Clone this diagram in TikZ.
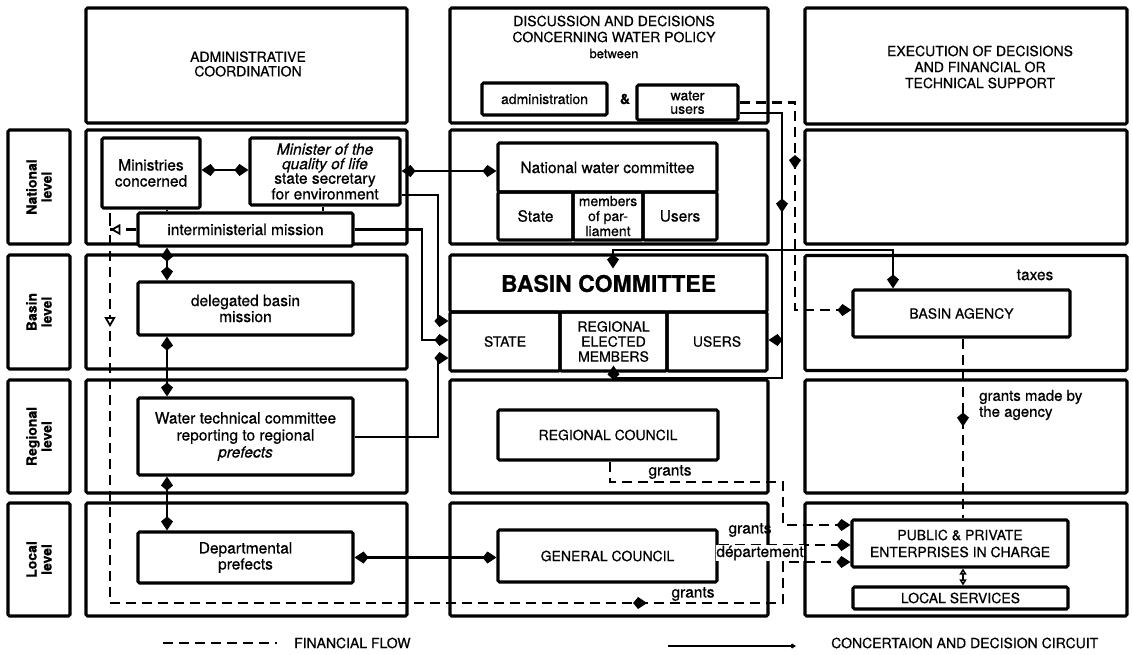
\documentclass[tikz,border=0pt]{standalone}
\usepackage{fontspec}
\setmainfont{TeX Gyre Heros}[FakeBold=0.6]
\usetikzlibrary{arrows.meta,decorations.markings,calc}

\tikzset{
  frame/.style={draw, line width=3.1pt, rounded corners=1.5pt, inner sep=1pt, align=center},
  lc/.style={font=\fontsize{15.5}{16}\selectfont},
  uc/.style={font=\fontsize{14}{16}\selectfont},
  lvltext/.style={rotate=90, align=center, font=\bfseries\fontsize{14}{15}\selectfont},
  link/.style={line width=2.9pt},
  fin/.style={line width=2.9pt, dash pattern=on 10pt off 6pt},
  plain/.style={align=center, inner sep=1pt},
  headtip/.tip={Kite[length=14pt,width=12pt,inset=5pt]},
  opentip/.tip={Triangle[length=10pt,width=11pt,fill=white,line width=1.8pt]},
  midarrow/.style={postaction={decorate}, decoration={markings,
      mark=at position #1 with {\arrow{headtip}}}},
}

\begin{document}
\begin{tikzpicture}[x=1pt, y=-1pt, >=headtip]
\fill[white] (0,0) rectangle (1133,654);
\useasboundingbox (0,0) rectangle (1133,654);

% ---- column headers ----
\node[frame, minimum width=321, minimum height=115] (hA) at (246.5,65.5) {};
\node[plain, font=\fontsize{14}{14.5}\selectfont] (tA) at (248,64) {ADMINISTRATIVE\\COORDINATION};
\node[frame, minimum width=318, minimum height=115] (hB) at (609,65.5) {};
\node[plain, uc] (tB) at (614,37) {DISCUSSION AND DECISIONS\\CONCERNING WATER POLICY\\{\fontsize{13}{14}\selectfont between}};
\node[frame, minimum width=322, minimum height=116] (hC) at (966,66) {};
\node[plain, uc] (tC) at (980,67) {EXECUTION OF DECISIONS\\AND FINANCIAL OR\\TECHNICAL SUPPORT};

\node[frame, uc, minimum width=125, minimum height=32] (adm) at (544.5,99) {administration};
\node[plain, font=\bfseries\fontsize{14}{16}\selectfont] (amp) at (625,99) {\&};
\node[frame, minimum width=101, minimum height=35, font=\fontsize{14}{13.5}\selectfont] (wu) at (687.5,102.5) {water\\users};

% ---- level labels ----
\foreach \nm/\cy/\h/\txt in {l1/187/114/National, l2/312/114/Basin, l3/436.5/113/Regional, l4/559.5/113/Local}{
  \node[frame, minimum width=62, minimum height=\h] (\nm) at (39,\cy) {};
  \node[lvltext] (\nm t) at (39,\cy) {\txt\\level};
}

% ---- level cells ----
\foreach \col/\cx/\w in {A/246.5/321, B/609/318, C/966/322}{
  \node[frame, minimum width=\w, minimum height=114] (\col1) at (\cx,187) {};
  \node[frame, minimum width=\w, minimum height=113] (\col3) at (\cx,436.5) {};
  \node[frame, minimum width=\w, minimum height=113] (\col4) at (\cx,559.5) {};
}
\node[frame, minimum width=321, minimum height=114] (A2) at (246.5,312) {};
\node[frame, minimum width=322, minimum height=115] (C2) at (966,313) {};

% ---- administrative column ----
\node[frame, lc, minimum width=98, minimum height=70] (mc) at (151,173) {Ministries\\concerned};
\node[frame, minimum width=150, minimum height=67, font=\fontsize{15.5}{14.5}\selectfont] (mq) at (325,171.5)
  {\itshape Minister of the\\\itshape quality of life\\state secretary\\for environment};
\node[frame, lc, minimum width=215, minimum height=33, fill=white] (inter) at (245.5,229.5) {interministerial mission};
\node[frame, lc, minimum width=215, minimum height=53] (dbm) at (245.5,308.5) {delegated basin\\mission};
\node[frame, lc, minimum width=215, minimum height=77, font=\fontsize{15.5}{17}\selectfont] (wtc) at (245.5,436.5)
  {Water technical committee\\reporting to regional\\\itshape prefects};
\node[frame, lc, minimum width=215, minimum height=51] (dp) at (245.5,557.5) {Departmental\\prefects};

% ---- discussion column ----
\node[frame, lc, minimum width=219, minimum height=49] (nwc) at (607.5,167.5) {National water committee};
\node[frame, lc, minimum width=75, minimum height=48] (nst) at (535.5,216) {State};
\node[frame, minimum width=70, minimum height=48, font=\fontsize{14}{15}\selectfont] (nmem) at (608,216) {members\\of par-\\liament};
\node[frame, lc, minimum width=74, minimum height=48] (nus) at (680,216) {Users};

\node[frame, minimum width=317, minimum height=57, font=\bfseries\fontsize{23}{24}\selectfont] (bc) at (608.5,283.5) {BASIN COMMITTEE};
\node[frame, uc, minimum width=110, minimum height=59] (bcstate) at (505,341.5) {STATE};
\node[frame, minimum width=107, minimum height=59, font=\fontsize{14}{15}\selectfont] (bcrem) at (613.5,341.5) {REGIONAL\\ELECTED\\MEMBERS};
\node[frame, uc, minimum width=100, minimum height=59] (bcusers) at (717,341.5) {USERS};

\node[frame, uc, minimum width=220, minimum height=50] (rc) at (608,435) {REGIONAL COUNCIL};
\node[frame, uc, minimum width=219, minimum height=52] (gc) at (607.5,556) {GENERAL COUNCIL};

% ---- execution column ----
\node[plain, lc] (taxes) at (1035,275) {taxes};
\node[frame, uc, minimum width=217, minimum height=47] (ba) at (961.5,313.5) {BASIN AGENCY};
\node[plain, lc, align=left, anchor=west, font=\fontsize{15}{16}\selectfont] (gma) at (978,405) {grants made by\\the agency};
\node[frame, uc, minimum width=216, minimum height=47, font=\fontsize{14}{17}\selectfont] (pub) at (960,543.5) {PUBLIC \& PRIVATE\\ENTERPRISES IN CHARGE};
\node[frame, uc, minimum width=215, minimum height=22] (ls) at (960.5,598) {LOCAL SERVICES};

% ---- concertation and decision circuit ----
\draw[link,<->] (mc.east |- 0,170) -- (mq.west |- 0,170);
\draw[link] (167,0 |- mc.south) -- (167,0 |- inter.north);
\draw[link] (323,0 |- mq.south) -- (323,0 |- inter.north);
\draw[link,<->] (167,0 |- inter.south) -- (167,0 |- dbm.north);
\draw[link,<->] (167,0 |- dbm.south) -- (167,0 |- wtc.north);
\draw[link,<->] (167,0 |- wtc.south) -- (167,0 |- dp.north);
\draw[link,<->] (mq.east |- 0,171) -- (nwc.west |- 0,171);
\draw[link,->] (mq.east |- 0,195) -| (438,321) -- (bcstate.west |- 0,321);
\draw[link,->] (inter.east) -| (422,340) -- (bcstate.west |- 0,340);
\draw[link,->] (wtc.east |- 0,437) -| (438,358) -- (bcstate.west |- 0,358);
\draw[link,<->] (dp.east) -- (gc.west |- dp.east);
\draw[link,<->] ($(bc.north)+(4.5,15)$) -- (613,250) -| ($(ba.north)+(-68.5,0)$);
\draw[link,->,midarrow=142pt] (wu.east |- 0,113) -- (782,113) -- (782,378) -- (613.5,378) -- ($(bcrem.south)+(0,-7)$);
\coordinate (jU) at (782,340);
\draw[link,->] (jU) -- (bcusers.east |- jU);
\draw[line width=1.6pt, {Triangle[length=6pt,width=7pt,fill=white]}-{Triangle[length=6pt,width=7pt,fill=white]}]
  (963,0 |- ls.north) -- (963,0 |- pub.south);

% ---- financial flow ----
\coordinate (fstub) at (110,213);
\draw[link] (fstub) -- (110,226);
\draw[fin,->, postaction={decorate}, decoration={markings,
    mark=at position 26pt with {\arrow{opentip}},
    mark=at position 124pt with {\arrow{opentip}},
    mark=at position 937pt with {\arrow{headtip}}}]
  (inter.west) -- (110,229.5) -- (110,603) -- (783,603) -- (783,562) -- (pub.west |- 0,562);
\node[plain, lc, fill=white] (g1) at (693,594) {grants};
\draw[fin,->,midarrow=122pt] (wu.east) -- (795,102.5) -- (795,310) -- (ba.west |- 0,310);
\draw[fin,midarrow=88pt] (963,0 |- ba.south) -- (963,0 |- pub.north);
\draw[fin,->] (610,0 |- rc.south) -- (610,482) -- (783,482) -- (783,525) -- (pub.west |- 0,525);
\node[plain, lc] (g2) at (670,472) {grants};
\draw[fin,->] (gc.east |- 0,545) -- (pub.west |- 0,545);
\node[plain, lc] (g3) at (750,530) {grants};
\node[plain, lc, fill=white, inner sep=0.5pt] (dep) at (760,553) {département};

% ---- legend ----
\node[plain, uc, anchor=west] (legF) at (293,643) {FINANCIAL FLOW};
\coordinate (legFs) at (163,643);
\draw[fin] (legFs) -- ([xshift=-16pt]legF.west);
\node[plain, uc, anchor=west] (legC) at (830,643) {CONCERTAION AND DECISION CIRCUIT};
\coordinate (legCs) at (668,646);
\draw[link, -{Kite[length=6pt,width=5pt,inset=2pt]}] (legCs) -- ([xshift=-34pt,yshift=-3pt]legC.west);
\end{tikzpicture}
\end{document}
